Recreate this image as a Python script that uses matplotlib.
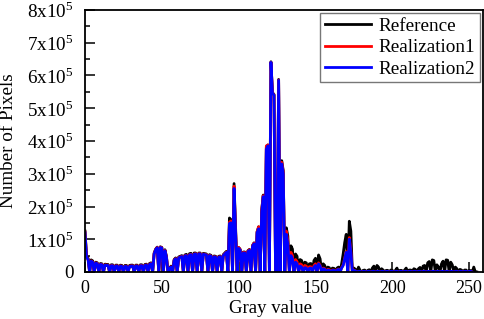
import matplotlib
matplotlib.use("Agg")
import matplotlib.pyplot as plt
from matplotlib.ticker import FixedLocator, MultipleLocator

plt.rcParams['font.family'] = ['Liberation Serif', 'DejaVu Serif']
plt.rcParams['mathtext.fontset'] = 'custom'
plt.rcParams['mathtext.rm'] = 'Liberation Serif'

# histogram counts, in thousands of pixels, one value per gray level
reference = [
    125, 50, 42, 0, 37, 34, 0, 30, 28, 0,          # 0-9
    26, 25, 0, 24, 23, 23, 0, 22, 22, 0,           # 10-19
    21, 21, 0, 21, 20, 0, 20, 20, 0, 20,           # 20-29
    21, 21, 0, 21, 21, 0, 22, 22, 0, 23,           # 30-39
    24, 0, 26, 28, 0, 58, 70, 76, 0, 77,           # 40-49
    75, 0, 68, 48, 0, 10, 18, 0, 38, 43,           # 50-59
    0, 46, 48, 50, 0, 52, 54, 0, 56, 57,           # 60-69
    0, 58, 58, 0, 58, 58, 0, 57, 56, 55,           # 70-79
    0, 53, 51, 0, 49, 48, 0, 48, 49, 0,            # 80-89
    53, 58, 63, 0, 165, 160, 0, 270, 130, 0,       # 90-99
    75, 69, 0, 61, 61, 0, 65, 69, 0, 81,           # 100-109
    89, 0, 123, 138, 0, 190, 235, 0, 380, 388,     # 110-119
    0, 642, 548, 542, 0, 0, 588, 0, 340, 310,      # 120-129
    0, 135, 110, 0, 80, 70, 0, 55, 48, 0,          # 130-139
    38, 35, 0, 30, 28, 0, 25, 26, 0, 35,           # 140-149
    42, 0, 52, 40, 0, 25, 20, 0, 15, 13,           # 150-159
    0, 12, 11, 0, 12, 15, 0, 25, 55, 90,           # 160-169
    115, 0, 155, 125, 0, 12, 8, 0, 15, 5,          # 170-179
    0, 5, 6, 0, 5, 7, 0, 12, 18, 0,                # 180-189
    20, 15, 0, 10, 6, 0, 5, 5, 0, 6,               # 190-199
    5, 0, 5, 12, 0, 5, 5, 0, 6, 12,                # 200-209
    0, 6, 6, 0, 10, 8, 0, 10, 14, 0,               # 210-219
    18, 20, 0, 28, 32, 0, 37, 35, 0, 22,           # 220-229
    15, 0, 25, 33, 0, 37, 36, 0, 30, 22,           # 230-239
    0, 15, 10, 0, 8, 6, 0, 6, 6, 0,                # 240-249
    5, 4, 0, 15, 0, 0,                             # 250-255
]

realization1 = [
    122, 46, 39, 0, 34, 31, 0, 28, 26, 0,          # 0-9
    24, 23, 0, 22, 21, 21, 0, 20, 20, 0,           # 10-19
    19, 19, 0, 19, 18, 0, 18, 18, 0, 18,           # 20-29
    19, 19, 0, 19, 19, 0, 20, 20, 0, 21,           # 30-39
    22, 0, 24, 26, 0, 56, 69, 75, 0, 76,           # 40-49
    74, 0, 66, 46, 0, 9, 16, 0, 36, 41,            # 50-59
    0, 44, 46, 48, 0, 50, 51, 0, 53, 54,           # 60-69
    0, 55, 56, 0, 56, 56, 0, 55, 54, 53,           # 70-79
    0, 51, 49, 0, 47, 46, 0, 46, 47, 0,            # 80-89
    51, 56, 61, 0, 152, 156, 0, 262, 125, 0,       # 90-99
    75, 68, 0, 60, 60, 0, 64, 68, 0, 80,           # 100-109
    88, 0, 123, 138, 0, 190, 233, 0, 385, 388,     # 110-119
    0, 640, 546, 541, 0, 0, 586, 0, 335, 305,      # 120-129
    0, 125, 95, 0, 60, 50, 0, 38, 32, 0,           # 130-139
    25, 22, 0, 20, 18, 0, 16, 16, 0, 20,           # 140-149
    25, 0, 28, 20, 0, 12, 10, 0, 8, 7,             # 150-159
    0, 6, 6, 0, 7, 9, 0, 13, 22, 42,               # 160-169
    62, 0, 105, 65, 0, 6, 3, 0, 2, 2,              # 170-179
    0, 2, 2, 0, 2, 2, 0, 2, 2, 0,                  # 180-189
    2, 2, 0, 2, 2, 0, 2, 2, 0, 2,                  # 190-199
    2, 0, 2, 2, 0, 2, 2, 0, 2, 2,                  # 200-209
    0, 2, 2, 0, 2, 2, 0, 2, 2, 0,                  # 210-219
    2, 2, 0, 2, 2, 0, 2, 2, 0, 2,                  # 220-229
    2, 0, 2, 2, 0, 2, 2, 0, 2, 2,                  # 230-239
    0, 2, 2, 0, 2, 2, 0, 2, 2, 0,                  # 240-249
    2, 2, 0,                                       # 250-252
]

realization2 = [
    120, 45, 38, 0, 33, 30, 0, 27, 25, 0,          # 0-9
    23, 22, 0, 21, 20, 20, 0, 19, 19, 0,           # 10-19
    18, 18, 0, 18, 17, 0, 17, 17, 0, 17,           # 20-29
    18, 18, 0, 18, 18, 0, 19, 19, 0, 20,           # 30-39
    21, 0, 23, 25, 0, 55, 68, 74, 0, 75,           # 40-49
    73, 0, 65, 45, 0, 8, 15, 0, 35, 40,            # 50-59
    0, 43, 45, 47, 0, 49, 50, 0, 52, 53,           # 60-69
    0, 54, 55, 0, 55, 55, 0, 54, 53, 52,           # 70-79
    0, 50, 48, 0, 46, 45, 0, 45, 46, 0,            # 80-89
    50, 55, 60, 0, 148, 150, 0, 255, 120, 0,       # 90-99
    72, 66, 0, 58, 58, 0, 62, 66, 0, 78,           # 100-109
    86, 0, 120, 132, 0, 183, 230, 0, 375, 385,     # 110-119
    0, 640, 545, 540, 0, 0, 585, 0, 330, 300,      # 120-129
    0, 115, 85, 0, 50, 40, 0, 30, 25, 0,           # 130-139
    18, 15, 0, 13, 12, 0, 11, 12, 0, 15,           # 140-149
    20, 0, 25, 18, 0, 10, 8, 0, 6, 5,              # 150-159
    0, 5, 5, 0, 6, 8, 0, 12, 20, 40,               # 160-169
    60, 0, 100, 60, 0, 5, 3, 0, 2, 2,              # 170-179
    0, 2, 2, 0, 2, 2, 0, 2, 2, 0,                  # 180-189
    2, 2, 0, 2, 2, 0, 2, 2, 0, 2,                  # 190-199
    2, 0, 2, 2, 0, 2, 2, 0, 2, 2,                  # 200-209
    0, 2, 2, 0, 2, 2, 0, 2, 2, 0,                  # 210-219
    2, 2, 0, 2, 2, 0, 2, 2, 0, 2,                  # 220-229
    2, 0, 2, 2, 0, 2, 2, 0, 2, 2,                  # 230-239
    0, 2, 2, 0, 2, 2, 0, 2, 2, 0,                  # 240-249
    2, 2, 0,                                       # 250-252
]

x_ticks = [0, 50, 100, 150, 200, 250]
y_ticks = [0, 1e5, 2e5, 3e5, 4e5, 5e5, 6e5, 7e5, 8e5]
y_ticklabels = ['0'] + [rf'{i}x10$^{{5}}$' for i in range(1, 9)]


def counts(vals):
    return [v * 1000 for v in vals]


fs = 13.8
fig = plt.figure(figsize=(4.84, 3.19), dpi=100)
ax = fig.add_axes([85 / 484, 47 / 319, 398 / 484, 262 / 319])

lw = 2.0
ax.plot(range(len(reference)), counts(reference), color='black', lw=lw, label='Reference')
ax.plot(range(len(realization1)), counts(realization1), color='#ff0000', lw=lw, label='Realization1')
ax.plot(range(len(realization2)), counts(realization2), color='#0000ff', lw=lw, label='Realization2')

ax.set_xlim(0, 259)
ax.set_ylim(0, 8e5)
ax.xaxis.set_major_locator(FixedLocator(x_ticks))
ax.set_yticks(y_ticks)
ax.set_yticklabels(y_ticklabels)
ax.yaxis.set_minor_locator(MultipleLocator(0.5e5))
ax.tick_params(axis='both', which='major', direction='in', length=7, width=1.1,
               labelsize=fs)
ax.tick_params(axis='y', which='major', pad=8)
ax.tick_params(axis='x', which='major', pad=6, labelsize=13)
ax.tick_params(axis='y', which='minor', direction='in', length=3.5, width=1.1)
for s in ax.spines.values():
    s.set_linewidth(1.3)

ax.set_xlabel('Gray value', fontsize=13.5)
ax.xaxis.set_label_coords(0.465, -0.108)
ax.set_ylabel('Number of Pixels', fontsize=fs)
ax.yaxis.set_label_coords(-0.172, 0.5)

leg = ax.legend(loc='upper right', fontsize=fs, frameon=True, fancybox=False,
                borderaxespad=0.15, handlelength=2.4, handletextpad=0.4,
                labelspacing=0.2, borderpad=0.25)
leg.get_frame().set_edgecolor('#555555')
leg.get_frame().set_linewidth(1.0)
for line in leg.get_lines():
    line.set_linewidth(2.0)

fig.savefig('out.png', dpi=100)
